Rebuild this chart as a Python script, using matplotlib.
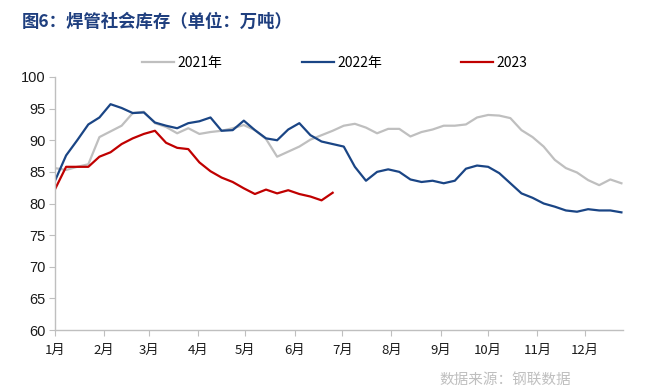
import matplotlib
matplotlib.use("Agg")
import matplotlib.pyplot as plt
import numpy as np

plt.rcParams['font.family'] = ['Noto Sans CJK SC', 'DejaVu Sans']

# ---- data ----
months = ["1月", "2月", "3月", "4月", "5月", "6月", "7月", "8月", "9月", "10月", "11月", "12月"]
month_start_days = [0, 31, 59, 90, 120, 151, 181, 212, 243, 273, 304, 334]

labels = ["2021年", "2022年", "2023"]

stock_2021 = [85.6, 85.3, 85.8, 86.2, 90.5, 91.4, 92.3, 94.3, 94.5, 92.7,
              92.1, 91.1, 91.9, 91.0, 91.3, 91.5, 91.9, 92.4, 91.6, 90.2,
              87.4, 88.2, 89.0, 90.1, 90.8, 91.5, 92.3, 92.6, 92.0, 91.1,
              91.8, 91.8, 90.6, 91.3, 91.7, 92.3, 92.3, 92.5, 93.6, 94.0,
              93.9, 93.5, 91.6, 90.5, 89.0, 86.9, 85.6, 84.9, 83.7, 82.9,
              83.8, 83.2]

stock_2022 = [83.6, 87.6, 90.0, 92.5, 93.6, 95.7, 95.1, 94.3, 94.4, 92.8,
              92.3, 91.9, 92.7, 93.0, 93.6, 91.5, 91.6, 93.1, 91.6, 90.3,
              90.0, 91.7, 92.7, 90.8, 89.8, 89.4, 89.0, 85.8, 83.6, 85.0,
              85.4, 85.0, 83.8, 83.4, 83.6, 83.2, 83.6, 85.5, 86.0, 85.8,
              84.8, 83.2, 81.6, 80.9, 80.0, 79.5, 78.9, 78.7, 79.1, 78.9,
              78.9, 78.6]

stock_2023 = [82.25, 85.8, 85.8, 85.8, 87.4, 88.1, 89.4, 90.3, 91.0, 91.5,
              89.6, 88.8, 88.6, 86.5, 85.1, 84.1, 83.4, 82.4, 81.5, 82.2,
              81.6, 82.1, 81.5, 81.1, 80.5, 81.7]

colors = ["#BFBFBF", "#1A4585", "#C00000"]

# ---- figure ----
fig = plt.figure(figsize=(6.48, 3.9), dpi=100)
ax = fig.add_axes([55 / 648, 1 - 330 / 390, (623 - 55) / 648, (330 - 77) / 390])

for series, lab, col in zip([stock_2021, stock_2022, stock_2023], labels, colors):
    x = np.arange(len(series)) * 7
    ax.plot(x, series, color=col, lw=1.6, label=lab, solid_joinstyle='round')

ax.set_xlim(0, 358)
ax.set_ylim(60, 100)
ax.set_yticks(np.arange(60, 101, 5))
ax.set_xticks(month_start_days)
ax.set_xticklabels(months)

for s in ["top", "right"]:
    ax.spines[s].set_visible(False)
for s in ["left", "bottom"]:
    ax.spines[s].set_color("#BFBFBF")
    ax.spines[s].set_linewidth(1.0)

ax.tick_params(axis='y', length=4, color="#BFBFBF", labelsize=10.5, pad=3, labelcolor="#1a1a1a")
ax.tick_params(axis='x', length=4, color="#BFBFBF", labelsize=9.5, pad=6, labelcolor="#1a1a1a")
for t in ax.get_yticklabels():
    t.set_family(['Liberation Sans', 'DejaVu Sans'])

leg = fig.legend(loc='center', bbox_to_anchor=(335 / 648, 1 - 63 / 390), ncol=3,
                 frameon=False, fontsize=10, handlelength=2.3, handletextpad=0.25,
                 columnspacing=5.7)

fig.text(22 / 648, 1 - 22 / 390, "图6：焊管社会库存（单位：万吨）", fontsize=12.5,
         fontweight='bold', color="#1F3F7F", ha='left', va='center')

fig.text(571 / 648, 1 - 380 / 390, "数据来源：钢联数据", fontsize=10.5,
         color="#BFBFBF", ha='right', va='center')

fig.savefig("out.png", dpi=100)
